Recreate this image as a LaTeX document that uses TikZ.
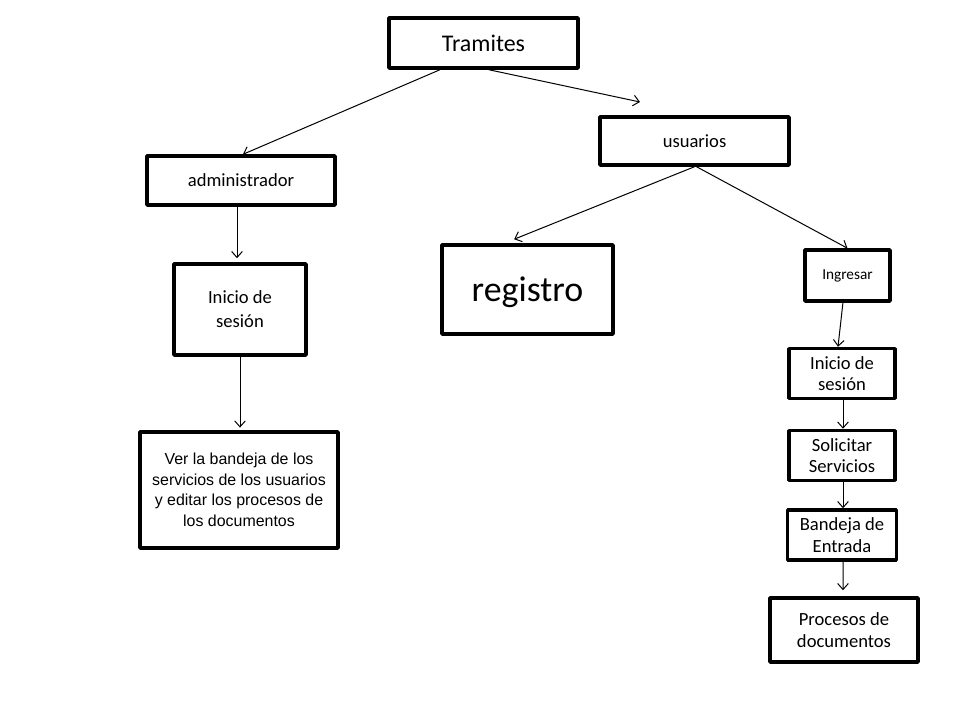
\documentclass[tikz,border=0pt]{standalone}
\usepackage{fontspec}
\setmainfont{Carlito}
\newfontfamily\arialfont{Liberation Sans}
\usetikzlibrary{arrows.meta}
\begin{document}
\begin{tikzpicture}[>={Straight Barb[length=4.5bp,width=8bp]},line join=bevel,
  caja/.style={draw,line width=2.6bp,align=center,inner sep=0pt},
  flecha/.style={->,line width=0.75bp}]
  \useasboundingbox (0bp,0bp) rectangle (720bp,540bp);
  \fill[white] (0bp,0bp) rectangle (720bp,540bp);
%%
  % Node: tramites
  \node[caja,minimum width=141.75bp,minimum height=37.5bp,font=\fontsize{18}{21}\selectfont] (tramites) at (362.6bp,507.75bp) {Tramites};
  % Node: usuarios
  \node[caja,minimum width=141.75bp,minimum height=36bp,font=\fontsize{14}{17}\selectfont] (usuarios) at (520.9bp,434.25bp) {usuarios};
  % Node: admin
  \node[caja,minimum width=141bp,minimum height=36.75bp,font=\fontsize{14}{17}\selectfont] (admin) at (180.75bp,404.6bp) {administrador};
  % Node: inicioA
  \node[caja,minimum width=99bp,minimum height=68.25bp,font=\fontsize{14}{18}\selectfont] (inicioA) at (180bp,307.9bp) {Inicio de\\sesión};
  % Node: bandejaA
  \node[caja,minimum width=148.5bp,minimum height=87bp,font=\arialfont\fontsize{12}{15.5}\selectfont] (bandejaA) at (179.25bp,172.5bp) {Ver la bandeja de los\\servicios de los usuarios\\y editar los procesos de\\los documentos};
  % Node: registro
  \node[caja,minimum width=128.25bp,minimum height=66.75bp,text depth=0pt,font=\fontsize{27}{30}\selectfont] (registro) at (395.6bp,322.9bp) {registro};
  % Node: ingresar
  \node[caja,minimum width=63.75bp,minimum height=38.25bp,font=\fontsize{11.5}{14}\selectfont] (ingresar) at (635.6bp,333.4bp) {Ingresar};
  % Node: inicioB
  \node[caja,minimum width=79.5bp,minimum height=37.5bp,font=\fontsize{14}{16}\selectfont] (inicioB) at (631.5bp,259.9bp) {Inicio de\\sesión};
  % Node: solicitar
  \node[caja,minimum width=79.5bp,minimum height=37.5bp,font=\fontsize{14}{16}\selectfont] (solicitar) at (631.5bp,198.4bp) {Solicitar\\Servicios};
  % Node: entrada
  \node[caja,minimum width=81.75bp,minimum height=37.5bp,font=\fontsize{14}{16}\selectfont] (entrada) at (631.5bp,138.75bp) {Bandeja de\\Entrada};
  % Node: procesos
  \node[caja,minimum width=111bp,minimum height=48bp,font=\fontsize{14}{17}\selectfont] (procesos) at (633bp,67.5bp) {Procesos de\\documentos};
  \coordinate (libre) at (480bp,463.5bp);
%%
  % Edge: tramites -> admin
  \draw[flecha] ([xshift=-32.6bp]tramites.south) -- ([xshift=1.5bp]admin.north);
  % Edge: tramites -> libre
  \draw[flecha] ([xshift=4bp]tramites.south) -- (libre);
  % Edge: usuarios -> registro
  \draw[flecha] (usuarios.south) -- ([xshift=-10bp,yshift=3bp]registro.north);
  % Edge: usuarios -> ingresar
  \draw[flecha] ([xshift=1.5bp]usuarios.south) -- (ingresar.north);
  % Edge: admin -> inicioA
  \draw[flecha] ([xshift=-3bp]admin.south) -- ([xshift=-2.25bp,yshift=3bp]inicioA.north);
  % Edge: inicioA -> bandejaA
  \draw[flecha] (inicioA.south) -- ([xshift=0.75bp,yshift=2bp]bandejaA.north);
  % Edge: ingresar -> inicioB
  \draw[flecha] ([xshift=-3.4bp]ingresar.south) -- ([xshift=-3bp]inicioB.north);
  % Edge: inicioB -> solicitar
  \draw[flecha] ([xshift=0.75bp]inicioB.south) -- ([xshift=0.75bp]solicitar.north);
  % Edge: solicitar -> entrada
  \draw[flecha] ([xshift=0.75bp]solicitar.south) -- ([xshift=0.75bp]entrada.north);
  % Edge: entrada -> procesos
  \draw[flecha,shorten >=4.5bp] ([xshift=0.75bp]entrada.south) -- ([xshift=-0.75bp]procesos.north);
%
\end{tikzpicture}
\end{document}
